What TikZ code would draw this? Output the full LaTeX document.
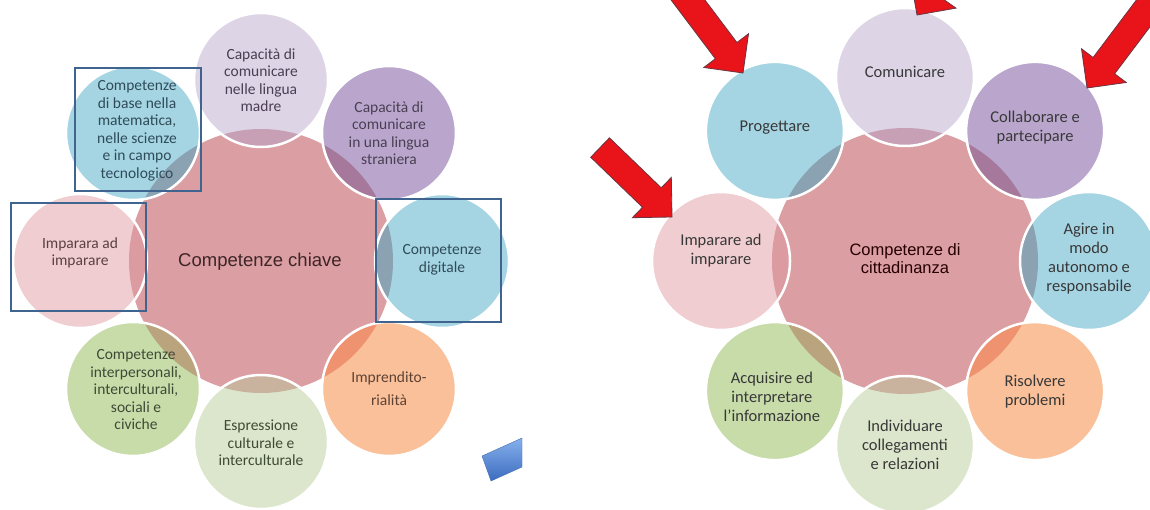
\documentclass[tikz,border=0pt]{standalone}
\usepackage{fontspec}
\setmainfont{Carlito}
\newfontfamily\arialfont{Liberation Sans}
\usetikzlibrary{calc}

% fills of the satellites, with their blend over the central disc
\definecolor{pinkc}{HTML}{DB9EA2}
\definecolor{lav}{HTML}{DDD4E6}   \definecolor{lavo}{HTML}{C8A0B6}
\definecolor{pur}{HTML}{BAA6CD}   \definecolor{puro}{HTML}{A6799C}
\definecolor{blu}{HTML}{A5D5E3}   \definecolor{bluo}{HTML}{8AA2B2}
\definecolor{pea}{HTML}{F9C09A}   \definecolor{peao}{HTML}{EF9270}
\definecolor{grp}{HTML}{DCE6CC}   \definecolor{grpo}{HTML}{C9B39F}
\definecolor{grn}{HTML}{C8DCAA}   \definecolor{grno}{HTML}{BAA47E}
\definecolor{pnk}{HTML}{F0CDD0}   \definecolor{pnko}{HTML}{DC9BA0}
% text colours
\definecolor{tblu}{HTML}{2F4B58}
\definecolor{tlav}{HTML}{4A3F52}
\definecolor{tpea}{HTML}{5E4233}
\definecolor{tgrn}{HTML}{3F4A36}
\definecolor{tpnk}{HTML}{5A4044}
\definecolor{tmid}{HTML}{3E2528}
\definecolor{framec}{HTML}{3F6490}
\definecolor{arrred}{HTML}{E8141A}
\definecolor{arredge}{HTML}{6A3440}
\definecolor{tilec}{HTML}{5A8FDA}
\definecolor{tiletop}{HTML}{86B0EC}
\definecolor{tilebot}{HTML}{3C6CC0}

% thick block arrow: #1 tip, #2 direction, #3 total length
\newcommand{\blockarrow}[3]{%
  \filldraw[redarrow] (#1)
    -- ($(#1)+(#2+180:28)+(#2+90:28)$)
    -- ($(#1)+(#2+180:28)+(#2+90:13.5)$)
    -- ($(#1)+(#2+180:#3)+(#2+90:13.5)$)
    -- ($(#1)+(#2+180:#3)+(#2-90:13.5)$)
    -- ($(#1)+(#2+180:28)+(#2-90:13.5)$)
    -- ($(#1)+(#2+180:28)+(#2-90:28)$)
    -- cycle;}

\begin{document}
\begin{tikzpicture}[x=1pt,y=-1pt,
  ltxt/.style={align=center,inner sep=0pt,font=\fontsize{15.5}{17.5}\selectfont},
  rtxt/.style={align=center,inner sep=0pt,font=\fontsize{16.5}{19}\selectfont,text=black!78},
  ring/.style={white,line width=2.5pt},
  frame/.style={draw=framec,line width=2.4pt},
  redarrow/.style={fill=arrred,draw=arredge,line width=0.8pt,line join=miter}]
\useasboundingbox (0,0) rectangle (1150,510);
\clip (0,0) rectangle (1150,510);
\fill[white] (0,0) rectangle (1150,510);

% ---------------- key competences ----------------
\coordinate (LC) at (261,261);
\fill[pinkc] (LC) circle[radius=132];
\foreach \a/\fc/\oc [count=\i] in
  {270/lav/lavo,315/pur/puro,0/blu/bluo,45/pea/peao,
   90/grp/grpo,135/grn/grno,180/pnk/pnko,225/blu/bluo}{
  \coordinate (LS\i) at ($(LC)+(\a:181)$);
  \fill[\fc] (LS\i) circle[radius=67];
  \begin{scope}
    \clip (LC) circle[radius=132];
    \fill[\oc] (LS\i) circle[radius=67];
  \end{scope}
  \draw[ring] (LS\i) circle[radius=67];
}

\node[ltxt,text=tlav] (lMadre) at (LS1) {Capacità di\\comunicare\\nelle lingua\\madre};
\node[ltxt,text=tlav] (lStran) at (LS2) {Capacità di\\comunicare\\in una lingua\\straniera};
\node[ltxt,text=tblu] (lDigit) at ($(LS3)+(0,-1)$) {Competenze\\digitale};
\node[ltxt,text=tpea,font=\fontsize{15.5}{23}\selectfont] (lImpr) at ($(LS4)+(0,0)$) {Imprendito-\\rialità};
\node[ltxt,text=tgrn] (lEspr) at ($(LS5)+(0,1)$) {Espressione\\culturale e\\interculturale};
\node[ltxt,text=tgrn] (lInter) at ($(LS6)+(3,1)$) {Competenze\\interpersonali,\\interculturali,\\sociali e\\civiche};
\node[ltxt,text=tpnk] (lImpa) at ($(LS7)+(0,-8)$) {Imparara ad\\imparare};
\node[ltxt,text=tblu] (lMate) at ($(LS8)+(4,-2)$) {Competenze\\di base nella\\matematica,\\nelle scienze\\e in campo\\tecnologico};
\node[inner sep=0pt,text=tmid,font=\arialfont\fontsize{18.5}{21}\selectfont] (lKey) at ($(LC)+(-1,1)$) {Competenze chiave};

% highlight frames
\draw[frame] (75,68) rectangle (201,191);
\draw[frame] (11,203) rectangle (146,311);
\draw[frame] (376,199) rectangle (501,322);

% small tile at the lower corner
\shade[top color=tiletop,bottom color=tilebot,draw=tilec!80!black,line width=0.4pt]
  (482,456) -- (522,438) -- (522,467) -- (491,481) -- cycle;

% ---------------- citizenship competences ----------------
\coordinate (RC) at (905,261);
\fill[pinkc] (RC) circle[radius=133];
\foreach \a/\fc/\oc [count=\i] in
  {270/lav/lavo,315/pur/puro,0/blu/bluo,45/pea/peao,
   90/grp/grpo,135/grn/grno,180/pnk/pnko,225/blu/bluo}{
  \coordinate (RS\i) at ($(RC)+(\a:184)$);
  \fill[\fc] (RS\i) circle[radius=69];
  \begin{scope}
    \clip (RC) circle[radius=133];
    \fill[\oc] (RS\i) circle[radius=69];
  \end{scope}
  \draw[ring] (RS\i) circle[radius=69];
}

\node[rtxt] (rCom) at ($(RS1)+(0,-5)$) {Comunicare};
\node[rtxt] (rColl) at ($(RS2)+(0,-3)$) {Collaborare e\\partecipare};
\node[rtxt] (rAgi) at ($(RS3)+(0,-2)$) {Agire in\\modo\\autonomo e\\responsabile};
\node[rtxt] (rRis) at ($(RS4)+(0,0)$) {Risolvere\\problemi};
\node[rtxt] (rInd) at ($(RS5)+(0,0)$) {Individuare\\collegamenti\\e relazioni};
\node[rtxt] (rAcq) at ($(RS6)+(-3,6)$) {Acquisire ed\\interpretare\\l’informazione};
\node[rtxt] (rImp) at ($(RS7)+(0,-10)$) {Imparare ad\\imparare};
\node[rtxt] (rPro) at ($(RS8)+(0,-3)$) {Progettare};
\node[inner sep=0pt,align=center,text=black!85!red,font=\arialfont\fontsize{16.5}{18}\selectfont] (rCit) at ($(RC)+(0,-2)$) {Competenze di\\cittadinanza};

% pointers
\coordinate (tipA) at (672,217);
\coordinate (tipB) at (743,73);
\coordinate (tipC) at (917,15);
\coordinate (tipD) at (1087,88);
\blockarrow{tipA}{44}{100}
\blockarrow{tipB}{53}{130}
\blockarrow{tipC}{125}{100}
\blockarrow{tipD}{127}{140}
\end{tikzpicture}
\end{document}
